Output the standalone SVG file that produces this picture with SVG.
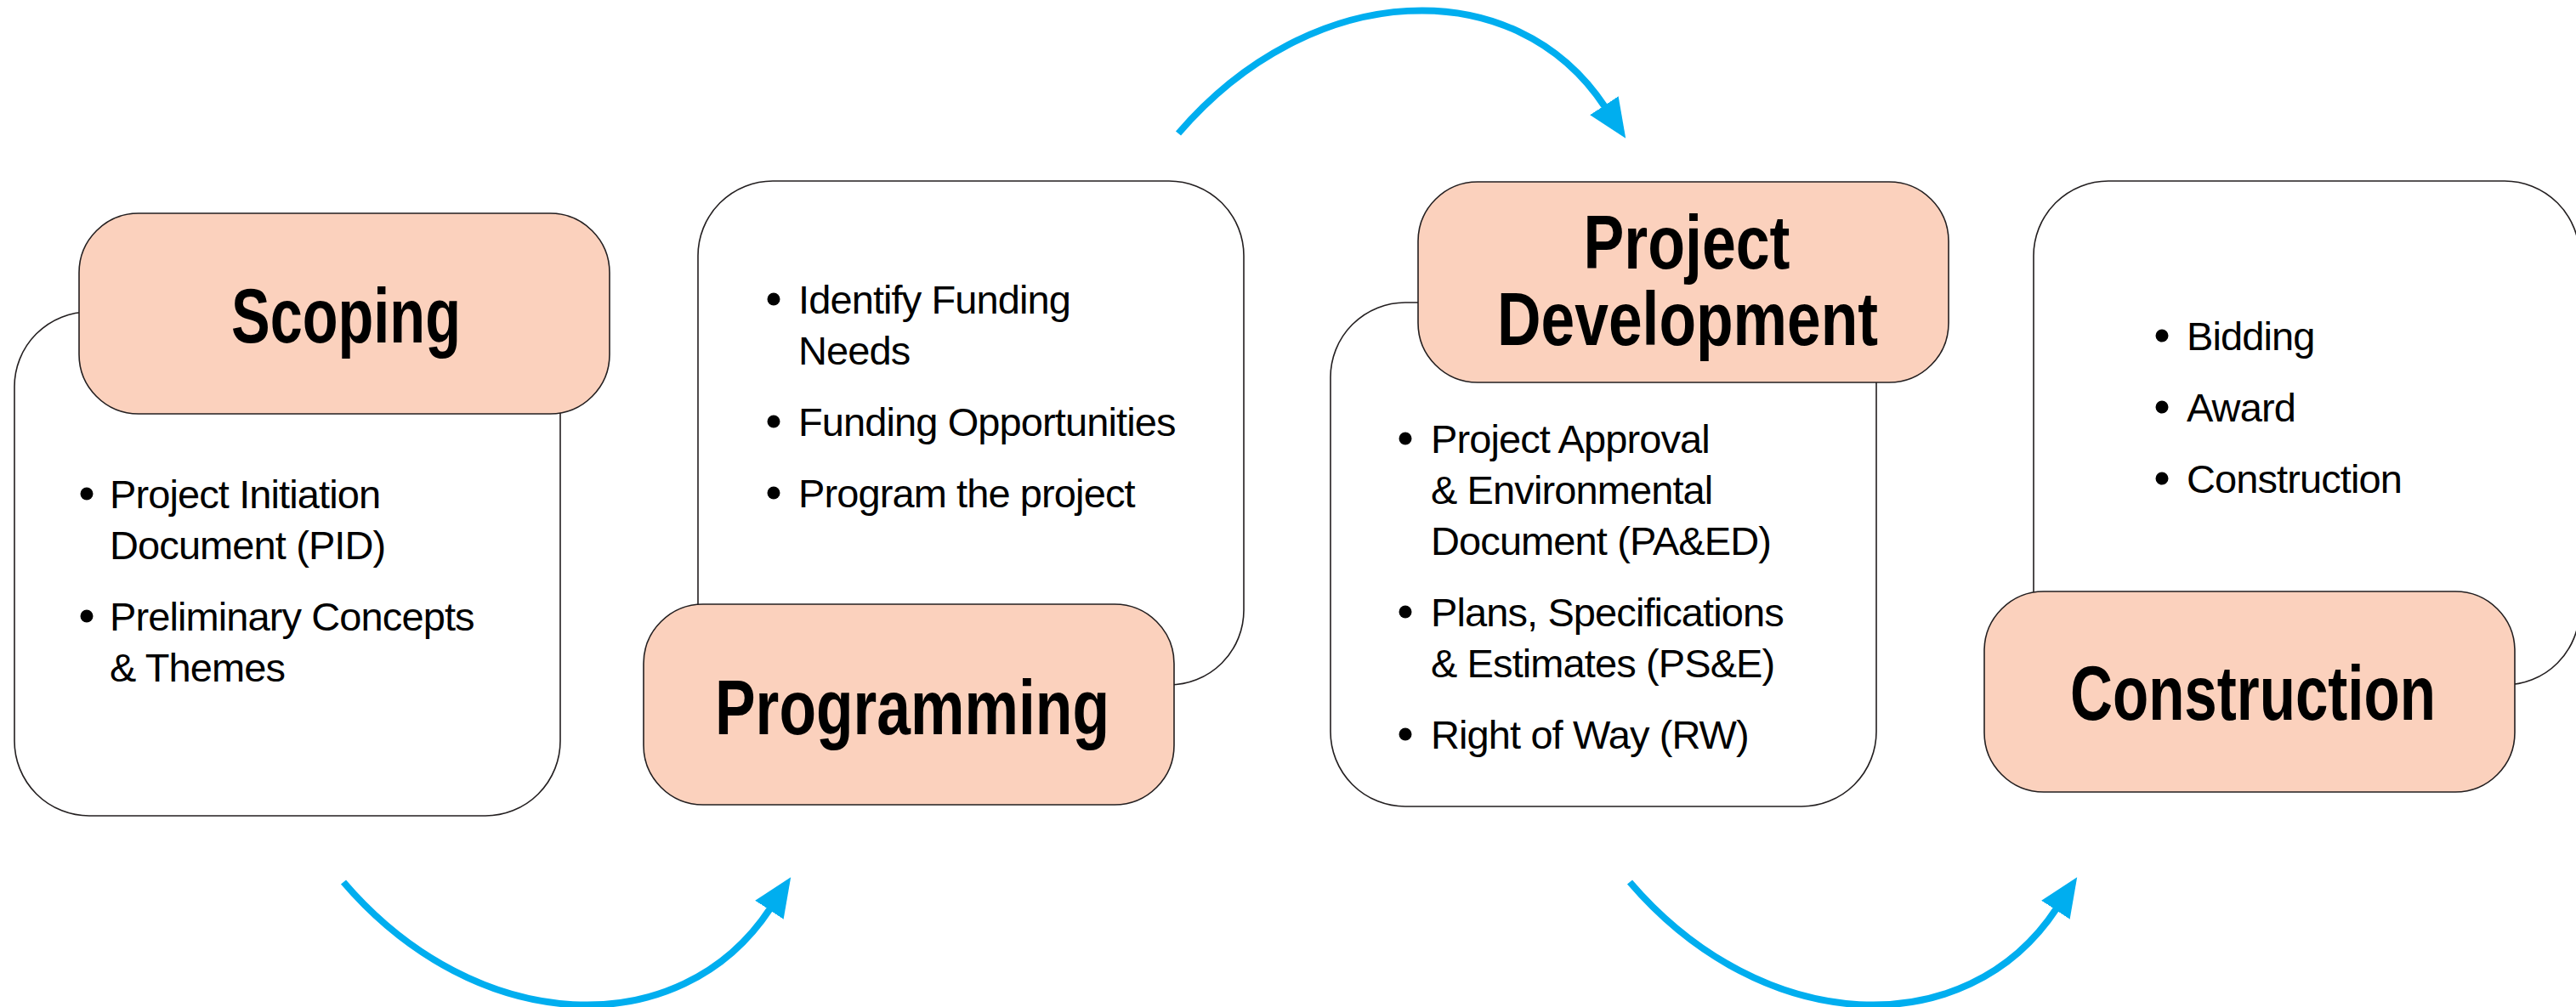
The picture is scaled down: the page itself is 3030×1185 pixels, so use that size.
<svg xmlns="http://www.w3.org/2000/svg" width="3030" height="1185" viewBox="0 0 3030 1185">
<style>
.box{fill:#ffffff;stroke:#231f20;stroke-width:1.6}
.hdr{fill:#fbd1bd;stroke:#231f20;stroke-width:1.6}
.title{font-family:"Liberation Sans",Arial,sans-serif;font-weight:bold;font-size:91px;text-anchor:middle;fill:#000}
.item{font-family:"Liberation Sans",Arial,sans-serif;font-size:47px;letter-spacing:-0.9px;fill:#000}
.dot{fill:#000}
.arrow{fill:none;stroke:#00aeef;stroke-width:8}
</style>
<defs>
<marker id="ah" markerUnits="userSpaceOnUse" markerWidth="48" markerHeight="40" refX="2" refY="20" orient="auto">
<path d="M0,0 L46,20 L0,40 z" fill="#00aeef"/>
</marker>
</defs>
<rect width="3030" height="1185" fill="#ffffff"/>
<g id="connectors">
<path class="arrow" d="M404,1038 C560,1220 800,1230 906,1069" marker-end="url(#ah)"/>
<path class="arrow" d="M1386,157 C1542,-25 1782,-35 1888,126" marker-end="url(#ah)"/>
<path class="arrow" d="M1917,1038 C2073,1220 2313,1230 2419,1069" marker-end="url(#ah)"/>
</g>
<g id="scoping">
<rect class="box" x="17" y="367" width="642" height="593" rx="88"/>
<rect class="hdr" x="93" y="251" width="624" height="236" rx="70"/>
<text class="title" x="407" y="403" textLength="270" lengthAdjust="spacingAndGlyphs">Scoping</text>
<circle class="dot" cx="102" cy="581" r="7.5"/>
<text class="item" x="129" y="598">Project Initiation</text>
<text class="item" x="129" y="658">Document (PID)</text>
<circle class="dot" cx="102" cy="725" r="7.5"/>
<text class="item" x="129" y="742">Preliminary Concepts</text>
<text class="item" x="129" y="802">&amp; Themes</text>
</g>
<g id="programming">
<rect class="box" x="821" y="213" width="642" height="593" rx="88"/>
<rect class="hdr" x="757" y="711" width="624" height="236" rx="70"/>
<text class="title" x="1073" y="864" textLength="464" lengthAdjust="spacingAndGlyphs">Programming</text>
<circle class="dot" cx="910" cy="352" r="7.5"/>
<text class="item" x="939" y="369">Identify Funding</text>
<text class="item" x="939" y="429">Needs</text>
<circle class="dot" cx="910" cy="496" r="7.5"/>
<text class="item" x="939" y="513">Funding Opportunities</text>
<circle class="dot" cx="910" cy="580" r="7.5"/>
<text class="item" x="939" y="597">Program the project</text>
</g>
<g id="project-development">
<rect class="box" x="1565" y="356" width="642" height="593" rx="88"/>
<rect class="hdr" x="1668" y="214" width="624" height="236" rx="70"/>
<text class="title" style="font-size:89px"><tspan x="1984" y="316" textLength="243" lengthAdjust="spacingAndGlyphs">Project</tspan><tspan x="1985" y="406" textLength="448" lengthAdjust="spacingAndGlyphs">Development</tspan></text>
<circle class="dot" cx="1653" cy="516" r="7.5"/>
<text class="item" x="1683" y="533">Project Approval</text>
<text class="item" x="1683" y="593">&amp; Environmental</text>
<text class="item" x="1683" y="653">Document (PA&amp;ED)</text>
<circle class="dot" cx="1653" cy="720" r="7.5"/>
<text class="item" x="1683" y="737">Plans, Specifications</text>
<text class="item" x="1683" y="797">&amp; Estimates (PS&amp;E)</text>
<circle class="dot" cx="1653" cy="864" r="7.5"/>
<text class="item" x="1683" y="881">Right of Way (RW)</text>
</g>
<g id="construction">
<rect class="box" x="2392" y="213" width="642" height="593" rx="88"/>
<rect class="hdr" x="2334" y="696" width="624" height="236" rx="70"/>
<text class="title" x="2650" y="847" textLength="430" lengthAdjust="spacingAndGlyphs">Construction</text>
<circle class="dot" cx="2543" cy="395" r="7.5"/>
<text class="item" x="2572" y="412">Bidding</text>
<circle class="dot" cx="2543" cy="479" r="7.5"/>
<text class="item" x="2572" y="496">Award</text>
<circle class="dot" cx="2543" cy="563" r="7.5"/>
<text class="item" x="2572" y="580">Construction</text>
</g>
</svg>
